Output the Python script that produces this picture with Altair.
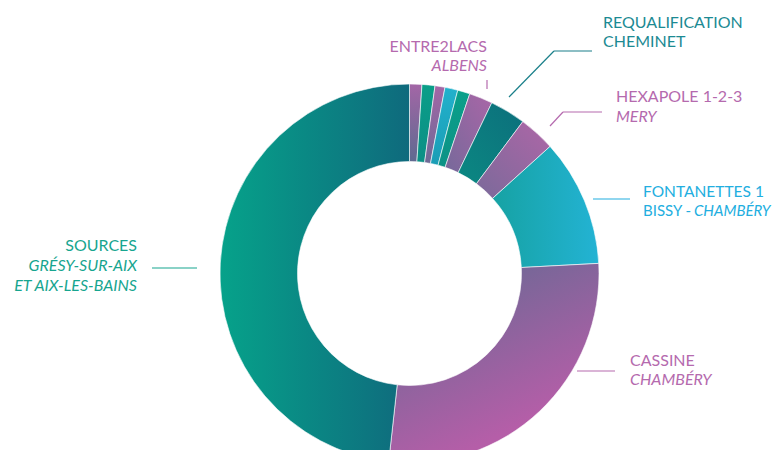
import altair as alt
import pandas as pd

# ---- data (clockwise from 12 o'clock) ----
names = ["Site 1", "Site 2", "Site 3", "Site 4", "Site 5",
         "ENTRE2LACS", "REQUALIFICATION CHEMINET", "HEXAPOLE 1-2-3",
         "FONTANETTES 1", "CASSINE", "SOURCES"]
shares = [1.05, 1.1, 0.85, 1.1, 1.05, 2.0, 3.05, 3.1, 10.85, 27.6, 48.25]
order = list(range(1, 12))

df = pd.DataFrame({"name": names, "share": shares, "order": order})

FONT = "Lato"
FS = 16
OFF = 8  # page margin


def lg(stops, x1=0, y1=0, x2=1, y2=0):
    return alt.LinearGradient(
        gradient="linear",
        stops=[alt.GradientStop(color=c, offset=o) for o, c in stops],
        x1=x1, y1=y1, x2=x2, y2=y2)


fills = {
    "Site 1": lg([(0, "#a366a6"), (1, "#5f6a90")], 0, 0, 0, 1),
    "Site 2": lg([(0, "#0a9e88"), (1, "#0b8f86")], 0, 0, 0, 1),
    "Site 3": lg([(0, "#a466a6"), (1, "#6d6a96")], 0, 0, 0, 1),
    "Site 4": lg([(0, "#22b1cc"), (1, "#1a9db5")], 0, 0, 0, 1),
    "Site 5": lg([(0, "#0aa08a"), (1, "#0c9286")], 0, 0, 0, 1),
    "ENTRE2LACS": lg([(0, "#a966a7"), (1, "#76699a")], 1, 0, 0, 1),
    "REQUALIFICATION CHEMINET": lg([(0, "#0c6f7c"), (1, "#0b8882")], 1, 0, 0, 1),
    "HEXAPOLE 1-2-3": lg([(0, "#ae66a7"), (1, "#7a6a9a")], 1, 0, 0, 1),
    "FONTANETTES 1": lg([(0, "#16a2a3"), (1, "#23b3d4")], 0, 0, 1, 0),
    "CASSINE": lg([(0, "#5d6a91"), (0.9, "#b55ea8")], 0, 0, 0.5, 1),
    "SOURCES": lg([(0, "#06a28a"), (1, "#0f6a7d")], 0, 0, 1, 0),
}

CX, CY = 409.5 - OFF, 273.5 - OFF
R_OUT, R_IN = 189.5, 112

base = alt.Chart(df).transform_window(
    cum="sum(share)", sort=[alt.SortField("order")], frame=[None, 0]
).transform_calculate(start="datum.cum - datum.share")

layers = []
for n in names:
    layers.append(
        base.transform_filter(alt.datum.name == n)
        .mark_arc(fill=fills[n], stroke="white", strokeWidth=0.6,
                  innerRadius=R_IN, outerRadius=R_OUT)
        .encode(
            theta=alt.Theta("start:Q", scale=alt.Scale(domain=[0, 100])),
            theta2="cum:Q",
            x=alt.value(CX), y=alt.value(CY),
        )
    )

one = pd.DataFrame({"a": [1]})


def label(text, x, y, color, align="left", italic=False, size=FS):
    return alt.Chart(one).mark_text(
        align=align, baseline="alphabetic", font=FONT, fontSize=size,
        fontStyle="italic" if italic else "normal", color=color
    ).encode(x=alt.value(x - OFF), y=alt.value(y - OFF), text=alt.value(text))


def rule(x1, y1, x2, y2, color, w=1.2):
    return alt.Chart(one).mark_rule(color=color, strokeWidth=w).encode(
        x=alt.value(x1 - OFF), y=alt.value(y1 - OFF),
        x2=alt.value(x2 - OFF), y2=alt.value(y2 - OFF))


PINK = "#b56aae"
TEAL = "#1c8a93"
CYAN = "#22aee0"
GREEN = "#17a58f"

annots = [
    label("REQUALIFICATION", 603, 28, TEAL),
    label("CHEMINET", 603, 47, TEAL),
    rule(509, 97, 554, 51, "#1a7f8a"),
    rule(554, 51, 592, 51, "#1a7f8a"),

    label("ENTRE2LACS", 487, 52, PINK, align="right"),
    label("ALBENS", 487, 71, PINK, align="right", italic=True),
    rule(487, 80, 487, 89, PINK),

    label("HEXAPOLE 1-2-3", 616, 102, PINK),
    label("MERY", 616, 122, PINK, italic=True),
    rule(550, 126, 563, 112, PINK),
    rule(563, 112, 602, 112, PINK),

    label("FONTANETTES 1", 643, 197, CYAN, size=15.5),
    label("BISSY - ", 643, 216, CYAN, size=15),
    label("CHAMBÉRY", 694, 216, CYAN, italic=True, size=15),
    rule(593, 199, 630, 199, CYAN),

    label("CASSINE", 630, 366, PINK),
    label("CHAMBÉRY", 630, 385, PINK, italic=True),
    rule(577, 371, 615, 371, PINK),

    label("SOURCES", 137, 251, GREEN, align="right"),
    label("GRÉSY-SUR-AIX", 137, 271, GREEN, align="right", italic=True),
    label("ET AIX-LES-BAINS", 137, 291, GREEN, align="right", italic=True),
    rule(152, 268, 197, 268, GREEN),
]

chart = alt.layer(*layers, *annots).properties(
    width=766, height=442, autosize="none", padding=0
).configure_view(stroke=None)

chart.save("out.html", embed_options={"renderer": "svg", "actions": False})
